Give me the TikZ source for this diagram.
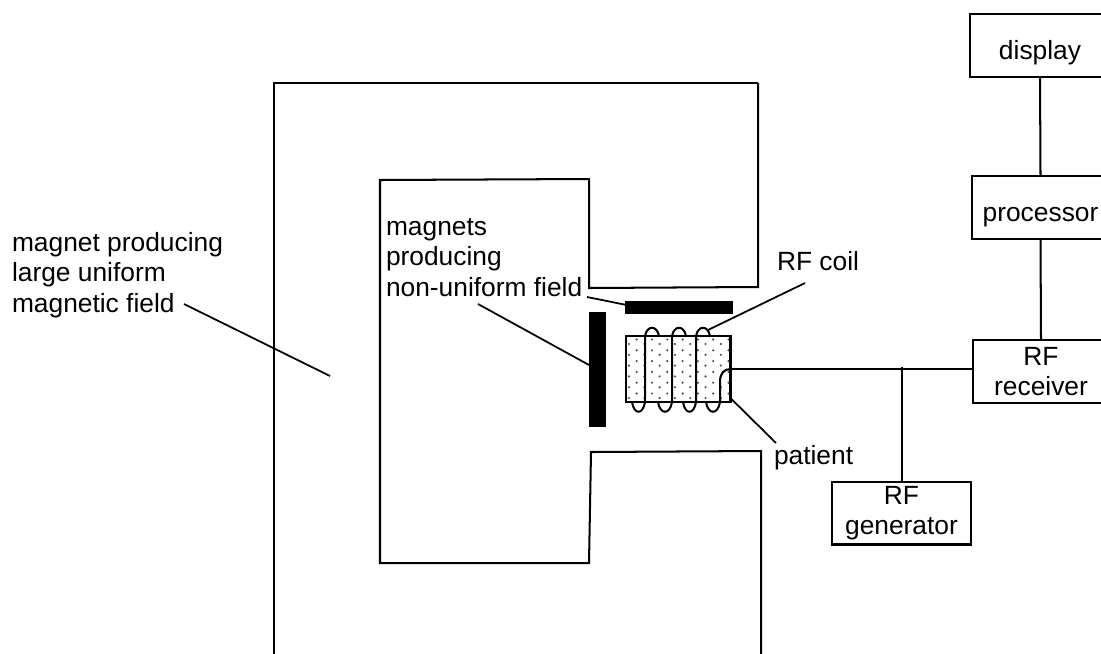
\documentclass[tikz,border=0pt]{standalone}
\usepackage{fontspec}
\setmainfont{Liberation Sans}
\usepackage{tikz}
\usetikzlibrary{calc}

\begin{document}
\begin{tikzpicture}[
    x=0.02cm,
    y=-0.02cm,
    line width=1.15pt,
    unitbox/.style={rectangle, draw, minimum height=1.26cm, inner sep=0pt, outer sep=0pt, align=center, font=\fontsize{15}{17.3}\selectfont},
    wordbox/.style={unitbox, text height=18.6pt, text depth=3.2pt},
    caption/.style={inner sep=0pt, outer sep=0pt, align=left, anchor=base west, font=\fontsize{15}{17.3}\selectfont},
    gradbar/.style={rectangle, fill=black, inner sep=0pt, outer sep=0pt},
    leader/.style={draw, line width=1pt}
]
\useasboundingbox (0,0) rectangle (1101,653);

% Main magnet
\draw (758,83) -- (274,83) -- (274,660);
\draw (761,660) -- (761,451) -- (591,452) -- (589,563) -- (380,563) -- (380,180) -- (589,179) -- (589,288) -- (758,287) -- (758,83);

% Gradient magnets
\node[gradbar, minimum width=2.16cm, minimum height=0.26cm] (topbar) at (679,307.5) {};
\node[gradbar, minimum width=0.34cm, minimum height=2.3cm] (leftbar) at (597.5,369.5) {};

% Patient with dots
\node[rectangle, draw, minimum width=2.1cm, minimum height=1.32cm, inner sep=0pt, outer sep=0pt] (patient) at (678,369) {};
\foreach \i in {0,...,13} {
    \foreach \j in {0,...,5} {
        \fill[black!70] ({629+7.65*\i},{344+10.8*\j-4.5*mod(\i,2)}) circle (0.024cm);
    }
}

% RF coil
\coordinate (coilend) at (731,369);
\draw (632,402) .. controls (634,415) and (643,415) .. (645,402) -- (645,336) .. controls (647,325) and (657,325) .. (659,336);
\draw (658,402) .. controls (660,415) and (670,415) .. (672,402) -- (672,336) .. controls (674,325) and (684,325) .. (686,336);
\draw (683,402) .. controls (685,415) and (694,415) .. (696,402) -- (696,336) .. controls (698,325) and (708,325) .. (710,336);
\draw (706,402) .. controls (708,415) and (718,415) .. (720,402) -- (720,382) .. controls (720,373) and (724,369) .. (coilend);

% Signal chain
\node[wordbox, minimum width=2.8cm] (display) at (1040,45.5) {display};
\node[wordbox, minimum width=2.74cm] (processor) at (1040.5,207.5) {processor};
\node[unitbox, minimum width=2.74cm] (receiver) at (1041,371.5) {RF\\receiver};
\node[unitbox, minimum width=2.78cm] (generator) at (901.5,513) {RF\\generator};
\coordinate (tap) at (901.5,367);
\draw (display.south) -- (processor.north);
\draw (processor.south) -- (receiver.north);
\draw (coilend) -- (coilend -| receiver.west);
\draw (generator.north) -- (tap);

% Labels
\node[caption] (uniformlabel) at (12,312) {magnet producing\\large uniform\\magnetic field};
\node[caption] (gradlabel) at (386,296) {magnets\\producing\\non-uniform field};
\node[caption] (coillabel) at (777,270) {RF coil};
\node[caption] (patientlabel) at (774,464) {patient};

% Leader lines
\coordinate (uniformstart) at (184,304);
\coordinate (uniformend) at (330,376);
\coordinate (gradstarta) at (587,297);
\coordinate (gradstartb) at (478,304);
\coordinate (coilstart) at (708,330);
\coordinate (coilstop) at (805,283);
\coordinate (patientstop) at (776,443);
\draw[leader] (uniformstart) -- (uniformend);
\draw[leader] (gradstarta) -- (topbar.177);
\draw[leader] (gradstartb) -- (leftbar.152);
\draw[leader] (coilstart) -- (coilstop);
\draw[leader] (patient.-29) -- (patientstop);

\end{tikzpicture}
\end{document}
